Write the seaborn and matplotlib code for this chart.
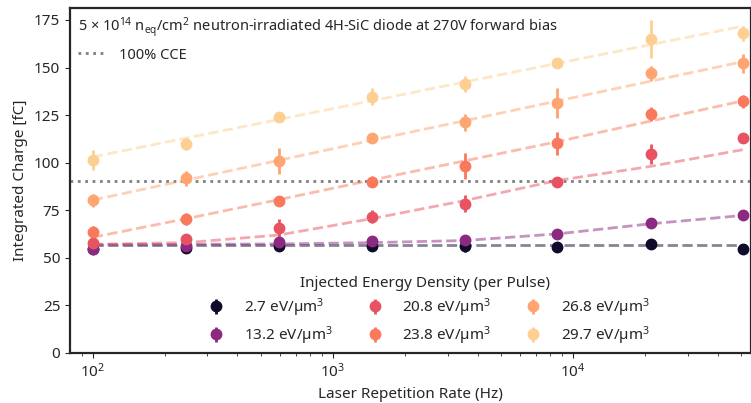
import matplotlib
matplotlib.use("Agg")
import matplotlib.pyplot as plt
import seaborn as sns
import pandas as pd

# laser repetition rates (Hz)
rate_hz = [100, 245, 595, 1450, 3530, 8600, 21000, 51000]

# injected energy density per pulse (eV/um^3)
energy = [2.7, 13.2, 20.8, 23.8, 26.8, 29.7]

# measured integrated charge (fC) and errors, one list per energy
charge_2p7 = [54.4, 55.2, 56.2, 56.0, 56.0, 55.8, 57.0, 54.5]
err_2p7 = [1.0, 1.0, 1.0, 1.2, 2.8, 1.0, 1.0, 1.0]
charge_13p2 = [54.6, 56.0, 58.0, 58.8, 59.3, 62.4, 68.0, 72.4]
err_13p2 = [1.0, 1.0, 1.2, 1.2, 1.5, 1.5, 1.0, 1.0]
charge_20p8 = [57.5, 59.8, 65.4, 71.5, 78.4, 89.8, 104.4, 113.1]
err_20p8 = [2.0, 1.5, 4.8, 3.5, 4.5, 1.0, 5.3, 1.0]
charge_23p8 = [63.7, 70.3, 79.6, 90.0, 98.2, 110.1, 125.6, 132.2]
err_23p8 = [3.0, 3.2, 1.8, 3.0, 7.0, 6.0, 3.5, 3.5]
charge_26p8 = [80.2, 91.7, 100.8, 113.0, 121.2, 131.2, 147.0, 152.2]
err_26p8 = [3.5, 4.0, 7.0, 2.0, 4.5, 7.9, 4.0, 5.0]
charge_29p7 = [101.4, 109.6, 123.8, 134.7, 141.5, 152.5, 165.0, 168.0]
err_29p7 = [5.4, 3.2, 2.5, 4.6, 4.2, 2.0, 10.0, 4.0]

# fitted model evaluated at each repetition rate
fit_2p7 = [56.8, 56.8, 56.8, 56.8, 56.8, 56.8, 56.8, 56.8]
fit_13p2 = [56.9, 57.0, 57.2, 57.9, 59.0, 62.5, 67.8, 72.2]
fit_20p8 = [57.0, 57.9, 61.9, 70.5, 80.0, 90.6, 98.0, 106.8]
fit_23p8 = [60.7, 70.5, 80.5, 90.8, 100.9, 111.0, 121.8, 132.5]
fit_26p8 = [80.3, 90.8, 101.2, 111.7, 122.0, 132.4, 142.8, 153.1]
fit_29p7 = [103.0, 112.9, 122.7, 132.5, 142.4, 152.2, 162.0, 171.8]

cce_100 = 90.5

charges = [charge_2p7, charge_13p2, charge_20p8, charge_23p8, charge_26p8, charge_29p7]
errors = [err_2p7, err_13p2, err_20p8, err_23p8, err_26p8, err_29p7]
fits = [fit_2p7, fit_13p2, fit_20p8, fit_23p8, fit_26p8, fit_29p7]

sns.set_style("ticks")
plt.rcParams["font.family"] = ["Noto Sans", "DejaVu Sans"]
plt.rcParams["mathtext.fontset"] = "custom"
plt.rcParams["mathtext.rm"] = "Noto Sans"
plt.rcParams["mathtext.it"] = "Noto Sans:italic"
plt.rcParams["font.size"] = 11

cmap = sns.color_palette("magma", as_cmap=True)
colors = [cmap(e / 33.0) for e in energy]

fig = plt.figure(figsize=(7.51, 4.03), dpi=100)
ax = fig.add_axes([70 / 751, 50.3 / 403, 681 / 751, 344.7 / 403])

rows = []
for e, fit in zip(energy, fits):
    for r, f in zip(rate_hz, fit):
        rows.append({"rate": r, "fit": f, "energy": e})
fit_df = pd.DataFrame(rows)

for e, c in zip(energy, colors):
    sub = fit_df[fit_df["energy"] == e]
    sns.lineplot(data=sub, x="rate", y="fit", ax=ax, color=c, alpha=0.5,
                 linestyle="--", linewidth=2, legend=False, zorder=2)

cce = ax.axhline(cce_100, color="gray", linestyle=":", linewidth=2, zorder=1)

handles = []
for e, c, y, err in zip(energy, colors, charges, errors):
    h = ax.errorbar(rate_hz, y, yerr=err, fmt="o", color=c, markersize=7.5,
                    elinewidth=2, capsize=0, zorder=3, label=f"{e} eV/µm$^3$")
    handles.append(h)

ax.set_xscale("log")
ax.set_xlim(80.3, 55000)
ax.set_ylim(0, 181.3)
ax.set_yticks([0, 25, 50, 75, 100, 125, 150, 175])
ax.set_xlabel("Laser Repetition Rate (Hz)", fontsize=11)
ax.set_ylabel("Integrated Charge [fC]", fontsize=11)
ax.tick_params(labelsize=11)
for s in ax.spines.values():
    s.set_linewidth(1.6)

leg = ax.legend(handles=handles, title="Injected Energy Density (per Pulse)",
                ncol=3, frameon=False, loc="center",
                bbox_to_anchor=(0.522, 0.12), fontsize=11, title_fontsize=11,
                columnspacing=1.75, handletextpad=0.8, labelspacing=0.35)
ax.add_artist(leg)

ax.legend(handles=[cce], labels=["100% CCE"],
          title=r"5 × 10$^{14}$ n$_{\mathrm{eq}}$/cm$^2$ neutron-irradiated 4H-SiC diode at 270V forward bias",
          loc="upper left", frameon=False, alignment="left",
          fontsize=10.5, title_fontsize=10.5, borderaxespad=0.15)

fig.savefig("out.png", dpi=100)
